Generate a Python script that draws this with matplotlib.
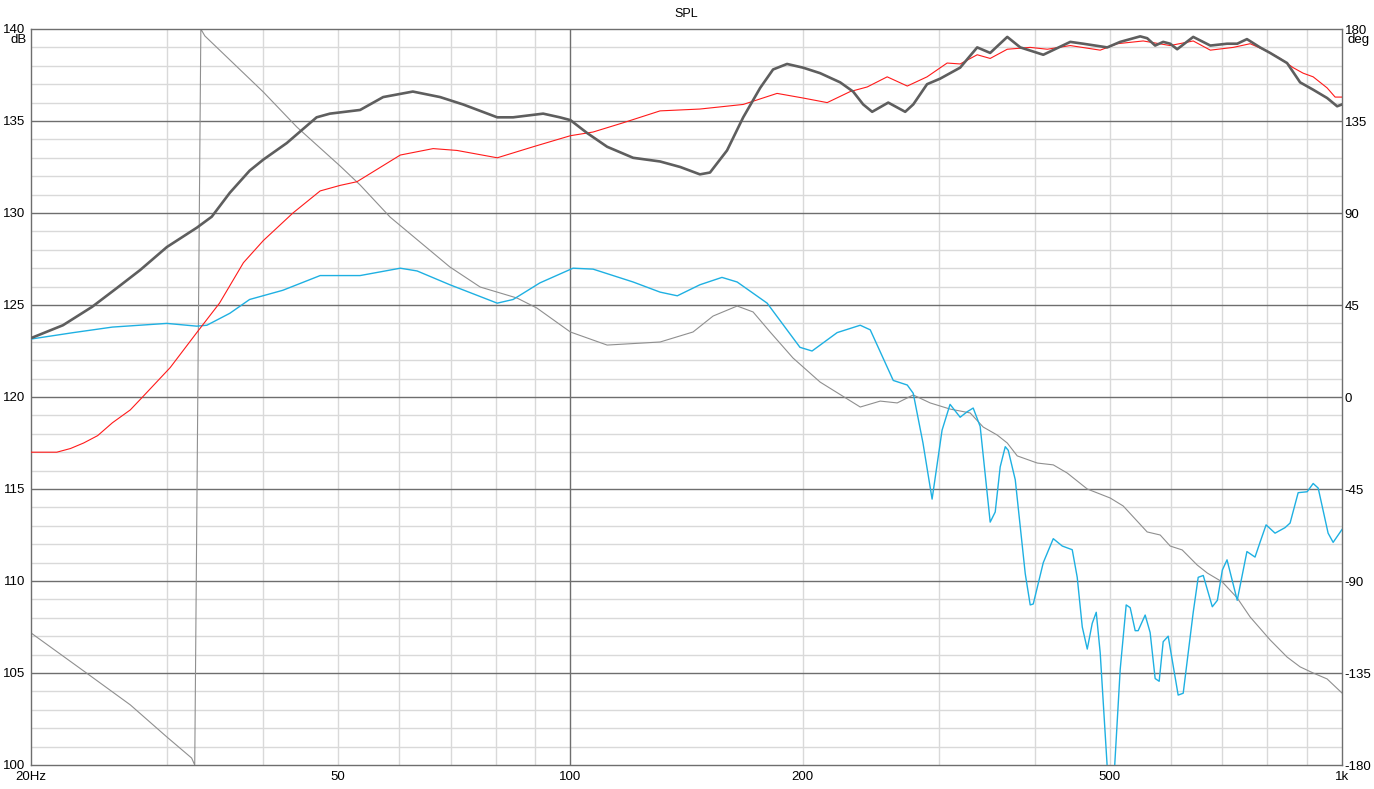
import matplotlib
matplotlib.use("Agg")
import matplotlib.pyplot as plt
from matplotlib.ticker import NullFormatter, NullLocator

plt.rcParams["font.family"] = ["Liberation Sans", "DejaVu Sans"]

# thick dark grey SPL curve (dB)
spl_f = [20, 22.0, 24.0, 25.8, 27.7, 30.0, 32.8, 34.3, 36.2, 38.4, 40.0, 42.9, 46.9, 48.8,
         53.4, 57.2, 62.5, 67.8, 72.6, 80.4, 84.3, 92.2, 96.9, 100, 105.1, 111.6, 120.6,
         130.7, 138.8, 147.2, 151.7, 159.6, 167.5, 176.2, 183.1, 190.9, 200.2, 210.7, 223.7,
         232.5, 239.6, 246.1, 258.2, 271.6, 278.2, 289.9, 301.4, 320.0, 336.7, 350.0, 368.3,
         382.9, 410.1, 444.5, 462.0, 496.3, 515.9, 547.6, 559.1, 572.6, 586.5, 598.9, 611.5,
         641.5, 675.1, 709.6, 731.5, 753.0, 783.0, 806.9, 848.8, 882.5, 917.6, 956.5, 985.6, 1000]
spl_db = [123.2, 123.9, 124.9, 125.9, 126.9, 128.15, 129.2, 129.8, 131.1, 132.3, 132.9, 133.8,
          135.2, 135.4, 135.6, 136.3, 136.6, 136.3, 135.9, 135.2, 135.2, 135.4, 135.2, 135.05,
          134.35, 133.6, 133.0, 132.8, 132.5, 132.1, 132.2, 133.4, 135.2, 136.8, 137.8, 138.1,
          137.9, 137.6, 137.1, 136.6, 135.9, 135.5, 136.0, 135.5, 135.9, 137.0, 137.3, 137.9,
          139.0, 138.7, 139.57, 139.0, 138.6, 139.3, 139.2, 139.0, 139.3, 139.6, 139.5, 139.1,
          139.3, 139.2, 138.9, 139.57, 139.1, 139.2, 139.2, 139.45, 139.0, 138.7, 138.15, 137.1,
          136.7, 136.25, 135.8, 135.9]

# thin red curve (dB)
red_f = [20, 21.6, 22.5, 23.4, 24.4, 25.5, 26.9, 27.9, 30.3, 32.8, 35.1, 37.7, 40.0, 43.7,
         47.4, 50.3, 52.9, 60.2, 66.4, 71.3, 80.4, 89.5, 100, 107, 117, 130.7, 147.2, 167.5,
         185.3, 200.2, 215.2, 230.5, 242.5, 257.4, 273.3, 289.9, 307.8, 320.0, 336.7, 350.0,
         368.3, 394.4, 415.0, 444.5, 486.0, 511.3, 552.5, 598.9, 641.5, 675.1, 722.8, 760.2,
         799.7, 831.3, 864.3, 890.4, 917.6, 956.5, 979.7, 1000]
red_db = [117.0, 117.0, 117.2, 117.5, 117.9, 118.6, 119.3, 120.0, 121.6, 123.5, 125.1, 127.3,
          128.5, 130.0, 131.2, 131.5, 131.7, 133.15, 133.5, 133.4, 133.0, 133.6, 134.2, 134.4,
          134.9, 135.55, 135.65, 135.9, 136.5, 136.25, 136.0, 136.6, 136.85, 137.4, 136.9, 137.4,
          138.15, 138.1, 138.6, 138.4, 138.9, 139.0, 138.9, 139.1, 138.85, 139.2, 139.35, 139.1,
          139.35, 138.85, 139.0, 139.2, 138.8, 138.4, 137.9, 137.6, 137.4, 136.8, 136.3, 136.3]

# cyan curve (dB)
cyan_f = [20, 22.7, 25.5, 30.0, 32.8, 33.8, 36.2, 38.4, 42.4, 47.4, 51.3, 53.4, 60.2, 63.3,
          69.8, 80.4, 84.3, 91.3, 100.8, 107, 120.6, 130.7, 137.6, 147.2, 157.2, 164.5, 179.9,
          198.4, 205.7, 221.7, 237.5, 244.7, 262.1, 273.3, 278.2, 286.4, 294.3, 303.2, 310.5,
          320.0, 326.8, 332.7, 339.7, 350.0, 355.3, 360.6, 366.1, 369.4, 377.2, 388.6, 394.4,
          398.0, 410.1, 422.5, 434.0, 447.1, 453.8, 460.7, 467.6, 474.6, 480.3, 486.0, 502.0,
          515.9, 525.2, 531.5, 539.5, 544.3, 555.8, 564.1, 572.6, 579.5, 586.5, 595.3, 613.3,
          622.6, 641.5, 651.1, 661.0, 679.1, 689.4, 699.8, 709.6, 731.5, 753.0, 771.4, 783.0,
          797.3, 818.9, 843.7, 856.5, 877.4, 901.2, 917.6, 931.4, 959.4, 973.9, 1000]
cyan_db = [123.15, 123.5, 123.8, 124.0, 123.85, 123.9, 124.55, 125.3, 125.8, 126.6, 126.6, 126.6,
           127.0, 126.85, 126.1, 125.1, 125.3, 126.2, 127.0, 126.95, 126.25, 125.7, 125.5, 126.1,
           126.5, 126.25, 125.1, 122.7, 122.5, 123.5, 123.9, 123.65, 120.9, 120.65, 120.2, 117.5,
           114.45, 118.2, 119.6, 118.9, 119.2, 119.4, 118.4, 113.2, 113.75, 116.2, 117.3, 117.1,
           115.5, 110.4, 108.7, 108.75, 111.0, 112.3, 111.9, 111.7, 110.2, 107.5, 106.3, 107.7,
           108.3, 106.1, 96.5, 105.2, 108.7, 108.55, 107.3, 107.3, 108.15, 107.2, 104.7, 104.55,
           106.7, 107.0, 103.8, 103.9, 108.3, 110.2, 110.3, 108.6, 108.95, 110.6, 111.15, 108.95,
           111.6, 111.3, 112.1, 113.05, 112.6, 112.9, 113.15, 114.8, 114.85, 115.3, 115.05, 112.6,
           112.1, 112.8]

# thin grey phase curve (deg, right axis)
ph_f = [20, 23.6, 26.9, 30.0, 32.3, 32.6, 33.2, 33.6, 40.0, 44.2, 50.3, 53.4, 58.4, 69.8, 76.4,
        85.3, 90.5, 100, 111.6, 130.7, 144.2, 153.1, 164.5, 172.5, 181.5, 194.3, 210.7, 237.5,
        252.1, 265.2, 278.2, 292.6, 310.5, 329.7, 342.8, 357.4, 368.3, 379.4, 402.8, 422.5,
        440.5, 467.6, 500.7, 520.5, 559.1, 581.3, 598.9, 620.7, 649.2, 669.0, 699.8, 731.5,
        760.2, 806.9, 848.8, 882.5, 917.6, 956.5, 1000]
ph_deg = [-115.4, -135.0, -150.6, -166.3, -176.6, -180, 180, 176.6, 149.2, 132.1, 113.0, 103.7,
          88.0, 63.6, 53.8, 48.4, 43.5, 31.8, 25.4, 26.9, 31.8, 39.6, 44.5, 41.6, 31.8, 19.1, 7.3,
          -4.9, -2.0, -2.9, 1.0, -2.9, -5.9, -7.8, -14.7, -18.6, -22.5, -28.8, -32.3, -33.2,
          -37.2, -45.0, -49.4, -53.3, -66.0, -67.5, -72.9, -74.8, -82.2, -86.1, -90.5, -98.3,
          -107.6, -118.8, -127.2, -132.0, -135.0, -137.9, -144.8]

db_ticks = [100, 105, 110, 115, 120, 125, 130, 135, 140]
deg_ticks = [-180, -135, -90, -45, 0, 45, 90, 135, 180]
x_ticks = [20, 50, 100, 200, 500, 1000]
x_labels = ["20Hz", "50", "100", "200", "500", "1k"]
light_v = [30, 40, 50, 60, 70, 80, 90, 200, 300, 400, 500, 600, 700, 800, 900]

FRAME = "#6e6e6e"
LIGHT = "#d9d9d9"

fig = plt.figure(figsize=(13.74, 7.89), dpi=100)
ax = fig.add_axes([31 / 1374, 24 / 789, 1311 / 1374, 736 / 789])
ax.set_xscale("log")
ax.set_xlim(20, 1000)
ax.set_ylim(100, 140)

# grid
for v in range(101, 140):
    if v % 5:
        ax.axhline(v, color=LIGHT, lw=1.0, zorder=0)
for v in db_ticks[1:-1]:
    ax.axhline(v, color=FRAME, lw=1.0, zorder=0.5)
for v in light_v:
    ax.axvline(v, color=LIGHT, lw=1.0, zorder=0.2)
ax.axvline(100, color=FRAME, lw=1.0, zorder=0.5)

# phase drawn in dB coordinates: 45 deg per 5 dB, -180 deg at 100 dB
ax.plot(ph_f, [100 + (d + 180) / 9.0 for d in ph_deg], color="#8f8f8f", lw=0.8, zorder=2)
ax.plot(cyan_f, cyan_db, color="#1eb0e2", lw=1.0, zorder=3)
ax.plot(red_f, red_db, color="#ff1a1a", lw=0.8, zorder=4)
ax.plot(spl_f, spl_db, color="#5e5e5e", lw=1.9, zorder=5)

for s in ax.spines.values():
    s.set_color(FRAME)
    s.set_linewidth(1.0)

ax.xaxis.set_minor_locator(NullLocator())
ax.xaxis.set_minor_formatter(NullFormatter())
ax.set_xticks(x_ticks)
ax.set_xticklabels(x_labels)
ax.set_yticks(db_ticks)
ax.set_yticklabels([str(v) for v in db_ticks])
ax.tick_params(axis="both", length=0, labelsize=9.5, colors="black")
ax.tick_params(axis="y", pad=4)
ax.tick_params(axis="x", pad=4)

ax2 = ax.twinx()
ax2.set_ylim(-180, 180)
ax2.set_yticks(deg_ticks)
ax2.set_yticklabels([str(v) for v in deg_ticks])
ax2.tick_params(axis="y", length=0, labelsize=9.5, pad=2)
for s in ax2.spines.values():
    s.set_visible(False)

ax.text(-0.0035, 0.985, "dB", transform=ax.transAxes, ha="right", va="center", fontsize=9.5)
ax.text(1.0045, 0.985, "deg", transform=ax.transAxes, ha="left", va="center", fontsize=9.5)
ax.text(0.5, 1.012, "SPL", transform=ax.transAxes, ha="center", va="bottom", fontsize=9)

fig.savefig("out.png", dpi=100)
